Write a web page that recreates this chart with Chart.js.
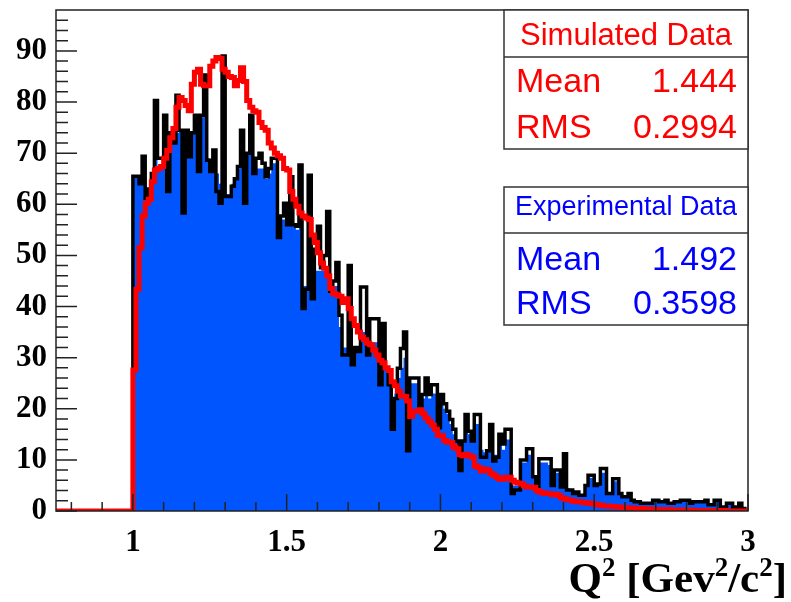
<!DOCTYPE html>
<html>
<head>
<meta charset="utf-8">
<script src="https://cdn.jsdelivr.net/npm/chart.js@4.4.1/dist/chart.umd.min.js"></script>
<style>
  html, body { margin: 0; padding: 0; background: #fff; }
  #wrap { width: 791px; height: 602px; }
</style>
</head>
<body>
<div id="wrap"><canvas id="q2Chart" width="791" height="602"></canvas></div>
<script>
// Q^2 histograms, bins of 0.01 from 1.00 to 3.00
const xMin = 0.75;
const xMax = 3.0;
const yMax = 98;
const binLow = 1.0;
const binWidth = 0.01;

const xTickLabels = [1, 1.5, 2, 2.5, 3];
const yTickLabels = [0, 10, 20, 30, 40, 50, 60, 70, 80, 90];

// experimental data, black outline
const expOutline = [
  65.5, 65.5, 64, 69.4, 61.2, 63, 66, 80.3, 69, 69,
  77.4, 62.5, 74, 72, 81.3, 74.5, 58.3, 74.5, 69.3, 74,
  77.4, 66.4, 77.4, 85.3, 68.6, 66.4, 70.6, 62.5, 60.2, 89,
  61.5, 61.5, 63.5, 65, 67.4, 74.5, 60.2, 70, 77.4, 66,
  69, 70, 68, 65.4, 67, 69, 69, 53.5, 57.7, 60.2,
  56, 65.4, 56, 55.7, 67.7, 39.6, 43.4, 65.7, 41.5, 51.2,
  55.7, 47.6, 50, 58.6, 43, 45, 48.6, 38.3, 30.5, 30.5,
  48, 28.6, 32, 31.2, 43.8, 43.8, 30.5, 37.6, 37.6, 37.6,
  24.7, 36.7, 28, 24.7, 16, 22, 27.9, 31.8, 35, 11.8,
  26, 26, 26, 20.5, 22.8, 26, 22.8, 24.7, 24.7, 16.3,
  22.8, 21, 19.5, 17.9, 16, 13.7, 7.9, 13.7, 18.9, 15.6,
  13.7, 18.9, 18.9, 10.5, 10.5, 11.8, 16.9, 9.8, 10.5, 15,
  13.1, 16, 16, 3.4, 4.1, 4.1, 10, 10, 12.2, 12.2,
  6.7, 4.7, 10.2, 10.2, 10.2, 10.2, 5, 8, 8, 4.7,
  11.2, 4.1, 4.1, 3.4, 3.7, 3.1, 3.1, 5, 7, 7,
  5, 5.3, 8.3, 8.3, 3.4, 3.4, 6.3, 6.3, 3.4, 2.8,
  2.8, 3.4, 2.1, 1.8, 1.8, 1.5, 1.5, 1.5, 1.5, 2.1,
  2.1, 1.8, 1.8, 2.1, 1.5, 1.5, 1.8, 1.8, 2.1, 2.1,
  2.1, 1.5, 1.8, 1.8, 1.8, 1.8, 2.1, 1.2, 1.2, 2.1,
  2.1, 0.8, 0.8, 1.5, 1.5, 0.8, 0.8, 1.5, 0.5, 0
];

// experimental data, blue filled histogram
const expFill = [
  65.5, 65.5, 65.5, 65.5, 63, 63, 65, 80, 67, 67,
  69, 66, 74, 73, 74, 74.5, 74, 74.5, 72, 74,
  77, 75, 77, 78, 69, 67, 70, 66, 64, 65,
  62, 62, 64, 65, 67, 70, 67, 70, 72, 66,
  67, 67, 67, 65, 66, 68, 68, 55, 57, 57,
  56, 57, 56, 55, 56, 44, 44, 47, 45, 47,
  47, 47, 47, 46, 43, 44, 44, 36, 32, 32,
  36, 30, 31, 31, 35, 35, 31, 33, 33, 33,
  27, 30, 28, 25, 22, 23, 26, 28, 30, 23,
  25, 25, 25, 21, 22, 24, 22, 23, 23, 19,
  21, 20, 19, 17, 15, 13.7, 12, 13.7, 16, 15,
  13.7, 17, 17, 12, 11.5, 12, 15, 11, 11, 13,
  12, 14, 14, 5, 5, 5, 9.5, 9.5, 11, 11,
  7, 5.5, 9.5, 9.5, 9.5, 9, 6, 7.5, 7.5, 5.5,
  9, 4.5, 4.1, 3.6, 3.7, 3.1, 3.1, 5, 6.5, 6.5,
  5, 5.3, 7.5, 7.5, 3.6, 3.6, 5.8, 5.8, 3.4, 2.8,
  2.8, 3.2, 2.1, 1.8, 1.8, 1.5, 1.5, 1.5, 1.5, 2.1,
  2.1, 1.8, 1.8, 2.1, 1.5, 1.5, 1.8, 1.8, 2.1, 2.1,
  2.1, 1.5, 1.8, 1.8, 1.8, 1.8, 2.1, 1.2, 1.2, 2.1,
  2.1, 0.8, 0.8, 1.5, 1.5, 0.8, 0.8, 1.5, 0.5, 0
];

// simulated data, red line
const simValues = [
  27.6, 43.4, 51.5, 57.7, 60.2, 61, 64.4, 66.7, 67, 67.4,
  69, 70.5, 73, 74.8, 79, 80.9, 80.3, 79.3, 78.3, 83.5,
  85.8, 86.4, 83.5, 83.2, 83.2, 87, 88, 88.7, 88.5, 86.4,
  85.8, 85, 84.8, 83.2, 84.2, 86.7, 84, 80.3, 79, 78.3,
  78, 76, 75, 74.5, 72, 71, 70, 69.5, 69, 67,
  66.7, 62.5, 61, 59.6, 58.3, 57.7, 57.3, 57, 54, 52.5,
  50.5, 48.5, 47.5, 46, 43.5, 42.5, 42.3, 42, 40.8, 41.5,
  39.6, 37.6, 36.3, 35, 34, 33.5, 32.8, 32.5, 31.5, 30.5,
  29.5, 29, 28, 27.5, 25.3, 24.5, 23.4, 22.5, 22.4, 21.5,
  18.5, 19.5, 19.5, 19.8, 19, 18.2, 17.5, 16.8, 16, 14.8,
  14.7, 13.8, 13.5, 13.4, 12.5, 12.2, 11, 10.8, 11.1, 10.8,
  10.5, 8.8, 8.5, 7.8, 8.2, 8, 7.4, 7.0, 6.6, 6.2,
  6.2, 6.6, 6.6, 6.0, 5.6, 5.5, 5.3, 4.9, 4.7, 4.7,
  4.6, 4.0, 3.7, 3.5, 3.4, 3.4, 3.2, 3.3, 3.1, 2.6,
  2.4, 2.2, 2.1, 1.9, 1.8, 1.8, 1.6, 1.6, 1.5, 1.4,
  1.3, 1.2, 1.1, 1.0, 1.0, 0.9, 0.9, 0.8, 0.8, 0.7,
  0.7, 0.6, 0.6, 0.5, 0.5, 0.5, 0.4, 0.4, 0.4, 0.4,
  0.3, 0.3, 0.3, 0.3, 0.3, 0.2, 0.2, 0.2, 0.2, 0.2,
  0.2, 0.2, 0.1, 0.1, 0.1, 0.1, 0.1, 0.1, 0.1, 0.1,
  0.1, 0.1, 0.1, 0, 0, 0, 0, 0, 0, 0
];

const simStats = { title: "Simulated Data", mean: "1.444", rms: "0.2994" };
const expStats = { title: "Experimental Data", mean: "1.492", rms: "0.3598" };

// bin edges -> points for a stepped line
function stepPoints(values, fromX) {
  const pts = [];
  if (fromX !== undefined) pts.push({ x: fromX, y: 0 });
  pts.push({ x: binLow, y: 0 });
  values.forEach((v, i) => {
    pts.push({ x: +(binLow + i * binWidth).toFixed(2), y: v });
  });
  pts.push({ x: +(binLow + values.length * binWidth).toFixed(2), y: values[values.length - 1] });
  return pts;
}

function drawStatBox(ctx, box, stats, color) {
  ctx.save();
  ctx.fillStyle = "#fff";
  ctx.fillRect(box.left, box.top, box.right - box.left, box.bottom - box.top);
  ctx.strokeStyle = "#333";
  ctx.lineWidth = 1.5;
  ctx.strokeRect(box.left, box.top, box.right - box.left, box.bottom - box.top);
  ctx.beginPath();
  ctx.moveTo(box.left, box.divider);
  ctx.lineTo(box.right, box.divider);
  ctx.stroke();

  ctx.fillStyle = color;
  ctx.textBaseline = "alphabetic";
  ctx.font = box.titleSize + "px 'Liberation Sans', Arial, sans-serif";
  ctx.textAlign = "center";
  ctx.fillText(stats.title, (box.left + box.right) / 2, box.titleBase);

  ctx.font = "34px 'Liberation Sans', Arial, sans-serif";
  ctx.textAlign = "left";
  ctx.fillText("Mean", box.left + 12, box.rowBase[0]);
  ctx.fillText("RMS", box.left + 12, box.rowBase[1]);
  ctx.textAlign = "right";
  ctx.fillText(stats.mean, box.right - 11, box.rowBase[0]);
  ctx.fillText(stats.rms, box.right - 11, box.rowBase[1]);
  ctx.restore();
}

const rootFrame = {
  id: "rootFrame",
  afterDatasetsDraw(chart) {
    const ctx = chart.ctx;
    const a = chart.chartArea;
    const xs = chart.scales.x;
    const ys = chart.scales.y;
    ctx.save();
    ctx.strokeStyle = "#222";
    ctx.lineWidth = 1.5;
    ctx.beginPath();
    for (let i = 8; i <= 30; i++) {
      const px = xs.getPixelForValue(i / 10);
      const len = i % 5 === 0 ? 17 : 9;
      ctx.moveTo(px, a.bottom);
      ctx.lineTo(px, a.bottom - len);
    }
    for (let i = 0; i <= 96; i += 2) {
      const py = ys.getPixelForValue(i);
      const len = i % 10 === 0 ? 21 : 12;
      ctx.moveTo(a.left, py);
      ctx.lineTo(a.left + len, py);
    }
    ctx.stroke();
    ctx.strokeRect(a.left, a.top, a.right - a.left, a.bottom - a.top);
    ctx.restore();
  },
  afterDraw(chart) {
    const ctx = chart.ctx;
    drawStatBox(ctx, { left: 504, right: 748, top: 10, divider: 57, bottom: 149,
      titleSize: 31, titleBase: 45, rowBase: [92, 138] }, simStats, "#ff0000");
    drawStatBox(ctx, { left: 504, right: 748, top: 187, divider: 233, bottom: 325,
      titleSize: 27, titleBase: 215, rowBase: [270, 314] }, expStats, "#0000ff");

    // axis title with superscripts
    const parts = [["Q", false], ["2", true], [" [Gev", false], ["2", true], ["/c", false], ["2", true], ["]", false]];
    const big = "bold 43px 'Liberation Serif', 'Times New Roman', serif";
    const small = "bold 27px 'Liberation Serif', 'Times New Roman', serif";
    ctx.save();
    ctx.fillStyle = "#000";
    ctx.textAlign = "left";
    ctx.textBaseline = "alphabetic";
    let total = 0;
    parts.forEach(([t, sup]) => { ctx.font = sup ? small : big; total += ctx.measureText(t).width; });
    let x = 787 - total;
    const base = 592;
    parts.forEach(([t, sup]) => {
      ctx.font = sup ? small : big;
      ctx.fillText(t, x, sup ? base - 16 : base);
      x += ctx.measureText(t).width;
    });
    ctx.restore();
  }
};

const tickFont = { family: "'Liberation Serif', 'Times New Roman', serif", weight: "bold", size: 31 };

new Chart(document.getElementById("q2Chart").getContext("2d"), {
  type: "line",
  data: {
    datasets: [
      {
        label: "Simulated Data",
        data: stepPoints(simValues, xMin),
        stepped: "before",
        borderColor: "#ff0000",
        borderWidth: 5,
        pointRadius: 0,
        fill: false
      },
      {
        label: "Experimental Data",
        data: stepPoints(expOutline),
        stepped: "before",
        borderColor: "#000",
        borderWidth: 3.5,
        pointRadius: 0,
        fill: false
      },
      {
        label: "Experimental fill",
        data: stepPoints(expFill),
        stepped: "before",
        borderWidth: 0,
        borderColor: "rgba(0,0,0,0)",
        backgroundColor: "#0055ff",
        pointRadius: 0,
        fill: "origin"
      }
    ]
  },
  options: {
    responsive: false,
    devicePixelRatio: 1,
    animation: false,
    layout: { padding: { top: 10, right: 43, left: 0, bottom: 0 } },
    plugins: { legend: { display: false }, tooltip: { enabled: false } },
    scales: {
      x: {
        type: "linear",
        min: xMin,
        max: xMax,
        grid: { display: false, drawTicks: false },
        border: { display: false },
        afterBuildTicks: scale => { scale.ticks = xTickLabels.map(v => ({ value: v })); },
        afterFit: scale => { scale.height = 91; scale.paddingLeft = 0; scale.paddingRight = 0; },
        ticks: { font: tickFont, color: "#000", padding: 13, maxRotation: 0, callback: v => String(v) }
      },
      y: {
        min: 0,
        max: yMax,
        grid: { display: false, drawTicks: false },
        border: { display: false },
        afterBuildTicks: scale => { scale.ticks = yTickLabels.map(v => ({ value: v })); },
        afterFit: scale => { scale.width = 56; scale.paddingTop = 0; scale.paddingBottom = 0; },
        ticks: { font: tickFont, color: "#000", padding: 9, callback: v => String(v) }
      }
    }
  },
  plugins: [rootFrame]
});
</script>
</body>
</html>
